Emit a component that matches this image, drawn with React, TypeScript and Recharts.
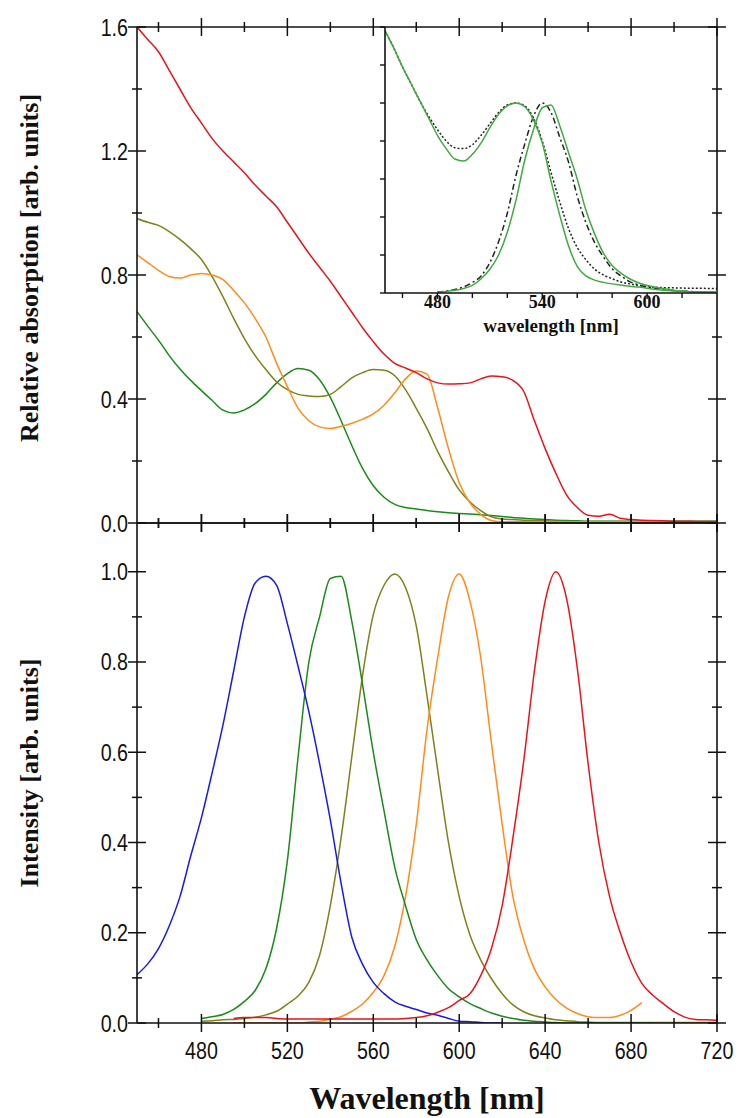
import React from 'react';
import { LineChart, Line, XAxis, YAxis } from 'recharts';

// wavelength grid (nm) shared by the two main panels
const absNm = [
  450, 455, 460, 465, 470, 475, 480, 485, 490, 495, 500, 505, 510, 515, 520, 525, 530, 535, 540, 545,
  550, 555, 560, 565, 570, 575, 580, 585, 590, 595, 600, 605, 610, 615, 620, 625, 630, 635, 640, 645,
  650, 655, 660, 665, 670, 675, 680, 685, 690, 695, 700, 705, 710, 715, 720,
];

// absorption spectra (top panel)
const absRed = [
  1.6, 1.56, 1.52, 1.46, 1.4, 1.34, 1.29, 1.24, 1.2, 1.165, 1.13, 1.09, 1.055, 1.02, 0.97, 0.92, 0.87, 0.825, 0.78, 0.73,
  0.68, 0.63, 0.585, 0.545, 0.515, 0.5, 0.485, 0.465, 0.452, 0.448, 0.449, 0.452, 0.465, 0.474, 0.472, 0.46, 0.425, 0.33, 0.24, 0.16,
  0.09, 0.05, 0.025, 0.022, 0.028, 0.015, 0.011, 0.009, 0.008, 0.007, 0.006, 0.006, 0.005, 0.005, 0.005,
];
const absOrange = [
  0.865, 0.84, 0.815, 0.795, 0.79, 0.8, 0.805, 0.8, 0.785, 0.75, 0.71, 0.66, 0.6, 0.515, 0.44, 0.37, 0.33, 0.31, 0.305, 0.312,
  0.322, 0.335, 0.352, 0.38, 0.42, 0.465, 0.49, 0.48, 0.37, 0.24, 0.13, 0.065, 0.028, 0.008, 0.004, 0.004, 0.004, 0.004, 0.004, 0.004,
  0.004, 0.004, 0.004, 0.004, 0.004, 0.004, 0.004, 0.004, 0.004, 0.004, 0.004, 0.004, 0.004, 0.004, 0.004,
];
const absOlive = [
  0.982, 0.97, 0.96, 0.94, 0.915, 0.885, 0.85, 0.795, 0.73, 0.66, 0.595, 0.54, 0.495, 0.455, 0.43, 0.415, 0.41, 0.408, 0.415, 0.44,
  0.468, 0.485, 0.495, 0.493, 0.475, 0.43, 0.37, 0.305, 0.23, 0.165, 0.107, 0.068, 0.04, 0.02, 0.013, 0.011, 0.009, 0.008, 0.007, 0.006,
  0.005, 0.005, 0.005, 0.005, 0.005, 0.005, 0.005, 0.005, 0.005, 0.005, 0.005, 0.005, 0.005, 0.005, 0.005,
];
const absGreen = [
  0.682, 0.635, 0.59, 0.54, 0.497, 0.46, 0.427, 0.395, 0.364, 0.355, 0.365, 0.385, 0.415, 0.452, 0.482, 0.498, 0.493, 0.462, 0.405, 0.33,
  0.25, 0.176, 0.12, 0.083, 0.06, 0.05, 0.045, 0.04, 0.036, 0.033, 0.031, 0.029, 0.027, 0.024, 0.021, 0.018, 0.015, 0.013, 0.011, 0.009,
  0.008, 0.007, 0.006, 0.006, 0.006, 0.006, 0.006, 0.006, 0.006, 0.006, 0.006, 0.006, 0.006, 0.006, 0.006,
];

// emission spectra (bottom panel), null where a trace was not recorded
const emBlue = [
  0.107, 0.131, 0.165, 0.215, 0.28, 0.37, 0.455, 0.555, 0.66, 0.78, 0.9, 0.975, 0.99, 0.97, 0.885, 0.79, 0.69, 0.575, 0.45, 0.31,
  0.19, 0.13, 0.09, 0.065, 0.047, 0.037, 0.03, 0.022, 0.017, 0.01, 0.004, 0.003, 0.001, 0, 0, null, null, null, null, null,
  null, null, null, null, null, null, null, null, null, null, null, null, null, null, null,
];
const emGreen = [
  null, null, null, null, null, null, 0.01, 0.014, 0.019, 0.03, 0.048, 0.072, 0.12, 0.21, 0.36, 0.59, 0.8, 0.9, 0.985, 0.99,
  0.89, 0.75, 0.6, 0.47, 0.345, 0.26, 0.185, 0.14, 0.105, 0.076, 0.058, 0.043, 0.032, 0.022, 0.015, 0.01, 0.006, 0.004, 0.002, 0.001,
  0, 0, 0, 0, 0, 0, 0, 0, 0, null, null, null, null, null, null,
];
const emOlive = [
  null, null, null, null, null, null, 0.004, 0.005, 0.007, 0.008, 0.01, 0.013, 0.018, 0.026, 0.042, 0.06, 0.09, 0.15, 0.26, 0.41,
  0.59, 0.77, 0.905, 0.97, 0.995, 0.965, 0.88, 0.725, 0.56, 0.4, 0.28, 0.195, 0.14, 0.098, 0.065, 0.04, 0.025, 0.016, 0.011, 0.007,
  0.005, 0.003, 0.002, 0.001, 0.001, 0.001, 0.001, 0.001, 0.001, 0.001, 0.001, 0.001, 0.001, 0.001, 0.001,
];
const emOrange = [
  null, null, null, null, null, null, null, null, null, 0, 0, 0, 0, 0, 0, 0, 0.002, 0.004, 0.008, 0.014,
  0.026, 0.042, 0.068, 0.105, 0.17, 0.28, 0.44, 0.65, 0.81, 0.945, 0.995, 0.935, 0.81, 0.62, 0.44, 0.28, 0.185, 0.12, 0.08, 0.052,
  0.033, 0.021, 0.014, 0.012, 0.012, 0.017, 0.028, 0.045, null, null, null, null, null, null, null,
];
const emRed = [
  null, null, null, null, null, null, null, null, null, 0.01, 0.012, 0.012, 0.012, 0.01, 0.009, 0.009, 0.009, 0.009, 0.009, 0.009,
  0.009, 0.009, 0.009, 0.009, 0.009, 0.01, 0.012, 0.016, 0.024, 0.034, 0.05, 0.065, 0.105, 0.165, 0.26, 0.41, 0.58, 0.78, 0.935, 1.0,
  0.94, 0.785, 0.575, 0.4, 0.28, 0.2, 0.135, 0.088, 0.062, 0.043, 0.025, 0.013, 0.008, 0.007, 0.006,
];

// inset: one dye, absorption + emission compared with a reference (black)
const insetNm = [
  450, 455, 460, 465, 470, 475, 480, 485, 490, 495, 500, 505, 510, 515, 520, 525, 530, 535, 540, 545,
  550, 555, 560, 565, 570, 575, 580, 585, 590, 595, 600, 605, 610, 615, 620, 625, 630, 635, 640,
];
const insetAbsGreen = [
  1.38, 1.29, 1.19, 1.1, 1.01, 0.92, 0.83, 0.76, 0.705, 0.695, 0.73, 0.79, 0.87, 0.94, 0.985, 1.0, 0.98, 0.91, 0.79, 0.59,
  0.41, 0.25, 0.14, 0.09, 0.068, 0.056, 0.048, 0.042, 0.036, 0.031, 0.025, 0.019, 0.014, 0.011, 0.009, 0.007, 0.006, 0.005, 0.004,
];
const insetAbsBlack = [
  1.38, 1.29, 1.19, 1.1, 1.01, 0.93, 0.86, 0.8, 0.765, 0.76, 0.78, 0.83, 0.89, 0.95, 0.99, 1.0, 0.985, 0.92, 0.8, 0.635,
  0.48, 0.34, 0.24, 0.175, 0.125, 0.095, 0.075, 0.058, 0.048, 0.04, 0.034, 0.03, 0.028, 0.027, 0.026, 0.025, 0.025, 0.024, 0.024,
];
const insetEmBlack = [
  null, null, null, null, null, null, 0.005, 0.01, 0.018, 0.032, 0.055, 0.09, 0.16, 0.27, 0.42, 0.62, 0.785, 0.93, 1.0, 0.95,
  0.82, 0.69, 0.51, 0.37, 0.265, 0.19, 0.128, 0.09, 0.06, 0.043, 0.032, 0.024, 0.018, 0.013, 0.01, 0.008, 0.006, 0.005, 0.004,
];
const insetEmGreen = [
  null, null, null, null, null, null, 0.004, 0.008, 0.014, 0.024, 0.04, 0.075, 0.125, 0.2, 0.32, 0.49, 0.7, 0.86, 0.975, 0.99,
  0.88, 0.74, 0.6, 0.435, 0.31, 0.21, 0.145, 0.105, 0.075, 0.054, 0.04, 0.03, 0.022, 0.015, 0.01, 0.007, 0.005, 0.004, 0.003,
];

// ticks
const nmTicks = [460, 480, 500, 520, 540, 560, 580, 600, 620, 640, 660, 680, 700, 720];
const absTicks = [0, 0.2, 0.4, 0.6, 0.8, 1.0, 1.2, 1.4, 1.6];
const emTicks = [0, 0.1, 0.2, 0.3, 0.4, 0.5, 0.6, 0.7, 0.8, 0.9, 1.0];
const insetNmTicks = [460, 480, 500, 520, 540, 560, 580, 600, 620];
const insetNmLabels = [480, 540, 600];
const insetTicks = [0, 0.2, 0.4, 0.6, 0.8, 1.0, 1.2, 1.4];

const absData = absNm.map((nm, i) => ({
  nm, red: absRed[i], orange: absOrange[i], olive: absOlive[i], green: absGreen[i],
}));
const emData = absNm.map((nm, i) => ({
  nm, blue: emBlue[i], green: emGreen[i], olive: emOlive[i], orange: emOrange[i], red: emRed[i],
}));
const insetData = insetNm.map((nm, i) => ({
  nm, absG: insetAbsGreen[i], absK: insetAbsBlack[i], emK: insetEmBlack[i], emG: insetEmGreen[i],
}));

const INK = '#111';
const SANS = "'Liberation Sans', Arial, sans-serif";
const SERIF = "'Liberation Serif', 'Times New Roman', serif";
const C = {
  red: '#e8141c', orange: '#ff8c1a', olive: '#80801a', green: '#1b8a1b', blue: '#1a1ae6', lightGreen: '#41a941', black: '#222',
};
const frame = { stroke: INK, strokeWidth: 1.6 };

const onStep = (v: number, step: number) => Math.abs(v / step - Math.round(v / step)) < 1e-6;

type Side = 'top' | 'bottom' | 'left' | 'right';

// ticks crossing the frame (long on labelled values), narrow sans labels
const crossTick = (side: Side, majorStep: number, labelled: boolean) => (props: any) => {
  const { x, y, payload } = props;
  const v: number = payload.value;
  const major = onStep(v, majorStep);
  const len = major ? 9 : 5;
  const horiz = side === 'top' || side === 'bottom';
  const text = labelled && major ? (horiz ? String(v) : v.toFixed(1)) : null;
  return (
    <g>
      {horiz
        ? <line x1={x} x2={x} y1={y - len} y2={y + len} stroke={INK} strokeWidth={1.5} />
        : <line x1={x - len} x2={x + len} y1={y} y2={y} stroke={INK} strokeWidth={1.5} />}
      {text && horiz && (
        <text transform={`translate(${x},${y + 36}) scale(0.82,1)`} textAnchor="middle"
          fontFamily={SANS} fontSize={24} fill={INK}>{text}</text>
      )}
      {text && !horiz && (
        <text transform={`translate(${x - 9},${y + 8.5}) scale(0.82,1)`} textAnchor="end"
          fontFamily={SANS} fontSize={24} fill={INK}>{text}</text>
      )}
    </g>
  );
};

// inset ticks point outwards only
const insetTick = (side: 'bottom' | 'left') => (props: any) => {
  const { x, y, payload } = props;
  const v: number = payload.value;
  if (side === 'left') {
    return <line x1={x - 5} x2={x} y1={y} y2={y} stroke={INK} strokeWidth={1.4} />;
  }
  const lab = insetNmLabels.includes(v);
  return (
    <g>
      <line x1={x} x2={x} y1={y} y2={y + (lab ? 6 : 5)} stroke={INK} strokeWidth={1.4} />
      {lab && (
        <text x={x} y={y + 15} textAnchor="middle" fontFamily={SERIF} fontWeight="bold"
          fontSize={18} fill={INK}>{v}</text>
      )}
    </g>
  );
};

const axisCommon = {
  type: 'number' as const,
  allowDataOverflow: true,
  interval: 0 as const,
  tickSize: 0,
  tickMargin: 0,
  tickLine: false,
  axisLine: frame,
};

const lineCommon = {
  type: 'monotone' as const,
  dot: false,
  strokeWidth: 1.5,
  isAnimationActive: false,
  connectNulls: false,
};

const titleStyle = (cx: number, cy: number, size: number, rotate: boolean): React.CSSProperties => ({
  position: 'absolute',
  left: cx,
  top: cy,
  transform: `translate(-50%, -50%)${rotate ? ' rotate(-90deg)' : ''}`,
  whiteSpace: 'nowrap',
  fontFamily: SERIF,
  fontWeight: 'bold',
  fontSize: size,
  color: INK,
  lineHeight: 1,
});

export default function App() {
  return (
    <div style={{ position: 'absolute', left: 0, top: 0, width: 740, height: 1118, background: '#fff', overflow: 'hidden' }}>
      {/* absorption */}
      <div style={{ position: 'absolute', left: 0, top: 0 }}>
        <LineChart width={740} height={560} data={absData} margin={{ top: 17, right: 13, bottom: 27, left: 127 }}>
          <XAxis xAxisId="b" dataKey="nm" domain={[450, 720]} ticks={nmTicks} height={10}
            tick={crossTick('bottom', 40, false)} {...axisCommon} />
          <XAxis xAxisId="t" dataKey="nm" orientation="top" domain={[450, 720]} ticks={nmTicks} height={10}
            tick={crossTick('top', 40, false)} {...axisCommon} />
          <YAxis yAxisId="l" domain={[0, 1.6]} ticks={absTicks} width={10}
            tick={crossTick('left', 0.4, true)} {...axisCommon} />
          <YAxis yAxisId="r" orientation="right" domain={[0, 1.6]} ticks={absTicks} width={10}
            tick={crossTick('right', 0.4, false)} {...axisCommon} />
          <Line xAxisId="b" yAxisId="l" dataKey="green" stroke={C.green} {...lineCommon} />
          <Line xAxisId="b" yAxisId="l" dataKey="olive" stroke={C.olive} {...lineCommon} />
          <Line xAxisId="b" yAxisId="l" dataKey="orange" stroke={C.orange} {...lineCommon} />
          <Line xAxisId="t" yAxisId="r" dataKey="red" stroke={C.red} {...lineCommon} />
        </LineChart>
      </div>

      {/* emission */}
      <div style={{ position: 'absolute', left: 0, top: 500 }}>
        <LineChart width={740} height={580} data={emData} margin={{ top: 13, right: 13, bottom: 47, left: 127 }}>
          <XAxis xAxisId="b" dataKey="nm" domain={[450, 720]} ticks={nmTicks} height={10}
            tick={crossTick('bottom', 40, true)} {...axisCommon} />
          <XAxis xAxisId="t" dataKey="nm" orientation="top" domain={[450, 720]} ticks={nmTicks} height={10}
            tick={crossTick('top', 40, false)} {...axisCommon} />
          <YAxis yAxisId="l" domain={[0, 1.108]} ticks={emTicks} width={10}
            tick={crossTick('left', 0.2, true)} {...axisCommon} />
          <YAxis yAxisId="r" orientation="right" domain={[0, 1.108]} ticks={emTicks} width={10}
            tick={crossTick('right', 0.2, false)} {...axisCommon} />
          <Line xAxisId="b" yAxisId="l" dataKey="olive" stroke={C.olive} {...lineCommon} />
          <Line xAxisId="b" yAxisId="l" dataKey="orange" stroke={C.orange} {...lineCommon} />
          <Line xAxisId="b" yAxisId="l" dataKey="green" stroke={C.green} {...lineCommon} />
          <Line xAxisId="b" yAxisId="l" dataKey="blue" stroke={C.blue} {...lineCommon} />
          <Line xAxisId="t" yAxisId="r" dataKey="red" stroke={C.red} {...lineCommon} />
        </LineChart>
      </div>

      {/* inset */}
      <div style={{ position: 'absolute', left: 0, top: 0 }}>
        <LineChart width={740} height={340} data={insetData} margin={{ top: 27, right: 23, bottom: 37, left: 375 }}>
          <XAxis dataKey="nm" domain={[450, 640]} ticks={insetNmTicks} height={10}
            tick={insetTick('bottom')} {...axisCommon} />
          <YAxis domain={[0, 1.4]} ticks={insetTicks} width={10}
            tick={insetTick('left')} {...axisCommon} />
          <Line dataKey="absK" stroke={C.black} strokeDasharray="2 2" {...lineCommon} />
          <Line dataKey="emK" stroke={C.black} strokeDasharray="6 3 2 3" {...lineCommon} />
          <Line dataKey="absG" stroke={C.lightGreen} {...lineCommon} />
          <Line dataKey="emG" stroke={C.lightGreen} {...lineCommon} />
        </LineChart>
      </div>

      <div style={titleStyle(30, 268, 26, true)}>Relative absorption [arb. units]</div>
      <div style={titleStyle(30, 773, 26, true)}>Intensity [arb. units]</div>
      <div style={titleStyle(427, 1098, 32, false)}>Wavelength [nm]</div>
      <div style={titleStyle(551, 325, 19, false)}>wavelength [nm]</div>
    </div>
  );
}
